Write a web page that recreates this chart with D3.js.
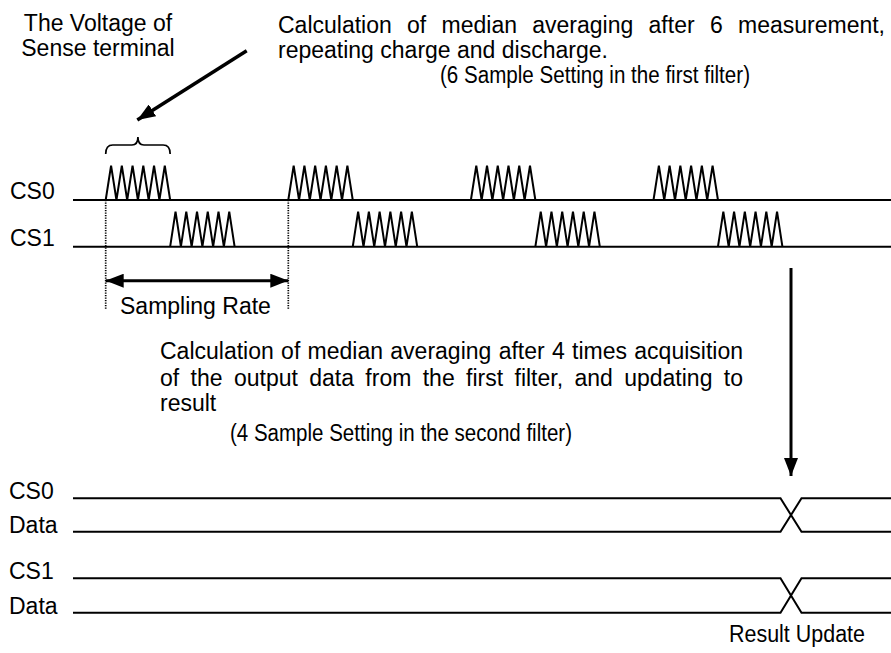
<!DOCTYPE html>
<html>
<head>
<meta charset="utf-8">
<script src="https://cdn.jsdelivr.net/npm/d3@7"></script>
<style>
  body{margin:0;background:#fff;}
  svg text{font-family:"Liberation Sans",Arial,sans-serif;font-size:23px;fill:#000;}
</style>
</head>
<body>
<svg id="chart" width="891" height="653"></svg>
<script>
// dane: kanaly, poczatki serii pomiarow (w jednostkach okresu probkowania)
let channels=["CS0","CS1"];
let burstStarts=[0,1,2,3];          // poczatki serii dla CS0
let burstOffsets=[0,0.353];         // przesuniecie CS1 wzgledem CS0
let burstWidth=0.353;               // szerokosc serii (6 probek)
let samplesPerBurst=6;
let dataRows=["CS0","CS1"];
let updateAt=3.76;                  // chwila aktualizacji wyniku

let topNote=["The Voltage of","Sense terminal"];
let firstFilterText=["Calculation of median averaging after 6 measurement,","repeating charge and discharge.","(6 Sample Setting in the first filter)"];
let secondFilterText=["Calculation of median averaging after 4 times acquisition","of the output data from the first filter, and updating to","result","(4 Sample Setting in the second filter)"];

const svg=d3.select("#chart");
const x=d3.scaleLinear().domain([0,1]).range([105.7,288.3]);
const lineStart=73, lineEnd=891;

// marker grotu strzalki
const defs=svg.append("defs");
defs.append("marker").attr("id","head").attr("viewBox","0 0 18 14")
    .attr("refX",18).attr("refY",7).attr("markerWidth",18).attr("markerHeight",14)
    .attr("markerUnits","userSpaceOnUse").attr("orient","auto-start-reverse")
    .append("path").attr("d","M0,0L18,7L0,14Z").attr("fill","#000");

// GORNE KANALY
let baseY=[200,246.7];
let topY=[165.7,211.7];
channels.forEach(function(ch,i){
    svg.append("text").attr("x",10).attr("y",baseY[i]-1).text(ch);
    svg.append("line").attr("x1",lineStart).attr("x2",lineEnd)
        .attr("y1",baseY[i]).attr("y2",baseY[i])
        .attr("stroke","#000").attr("stroke-width",2);
    var y=d3.scaleLinear().domain([0,1]).range([baseY[i],topY[i]]);
    burstStarts.forEach(function(s){
        var s0=s+burstOffsets[i];
        var pts=[[s0,0]];
        var step=burstWidth/samplesPerBurst;
        for(var k=0;k<samplesPerBurst;k++){
            pts.push([s0+(k+0.5)*step,1]);
            pts.push([s0+(k+1)*step,0]);
        }
        svg.append("path")
            .attr("d",d3.line().x(d=>x(d[0])).y(d=>y(d[1]))(pts))
            .attr("fill","none").attr("stroke","#000").attr("stroke-width",2);
    });
});

// klamra nad pierwsza seria
var bx0=x(0), bx1=x(burstWidth), bm=(bx0+bx1)/2;
svg.append("path")
    .attr("d","M"+bx0+",154 Q"+bx0+",145 "+(bx0+7)+",145 L"+(bm-6)+",145 Q"+bm+",145 "+bm+",137 Q"+bm+",145 "+(bm+6)+",145 L"+(bx1-7)+",145 Q"+bx1+",145 "+bx1+",154")
    .attr("fill","none").attr("stroke","#000").attr("stroke-width",1.7);

// linie kropkowane i okres probkowania
[0,1].forEach(function(t){
    svg.append("line").attr("x1",x(t)).attr("x2",x(t)).attr("y1",200).attr("y2",310)
        .attr("stroke","#000").attr("stroke-width",1.7).attr("stroke-dasharray","1.2,1.3");
});
svg.append("line").attr("x1",x(0)).attr("x2",x(1)).attr("y1",280.7).attr("y2",280.7)
    .attr("stroke","#000").attr("stroke-width",3)
    .attr("marker-start","url(#head)").attr("marker-end","url(#head)");
svg.append("text").attr("x",120).attr("y",314).text("Sampling Rate");

// strzalka ukosna
svg.append("line").attr("x1",246.7).attr("y1",50.7).attr("x2",137.3).attr("y2",120)
    .attr("stroke","#000").attr("stroke-width",3.5).attr("marker-end","url(#head)");

// teksty
topNote.forEach(function(t,i){
    svg.append("text").attr("x",98).attr("y",30.5+i*25).attr("text-anchor","middle").text(t);
});

function justify(str,x0,x1,yy){
    var words=str.split(" ");
    var nodes=words.map(w=>svg.append("text").attr("y",yy).text(w));
    var widths=nodes.map(n=>n.node().getComputedTextLength());
    var gap=(x1-x0-d3.sum(widths))/(words.length-1);
    var cx=x0;
    nodes.forEach(function(n,i){ n.attr("x",cx); cx+=widths[i]+gap; });
}
justify(firstFilterText[0],278,885,33);
svg.append("text").attr("x",278).attr("y",58).text(firstFilterText[1]);
svg.append("text").attr("x",440).attr("y",83).attr("textLength",310)
    .attr("lengthAdjust","spacingAndGlyphs").text(firstFilterText[2]);

justify(secondFilterText[0],160,743,359);
justify(secondFilterText[1],160,743,386);
svg.append("text").attr("x",160).attr("y",411).text(secondFilterText[2]);
svg.append("text").attr("x",230).attr("y",441).attr("textLength",342)
    .attr("lengthAdjust","spacingAndGlyphs").text(secondFilterText[3]);

// strzalka w dol
var ux=791;
svg.append("line").attr("x1",ux).attr("x2",ux).attr("y1",268).attr("y2",476)
    .attr("stroke","#000").attr("stroke-width",3).attr("marker-end","url(#head)");

// DOLNE LINIE DANYCH
let dataTop=[498.3,578.3];
let dataBot=[531.7,612.7];
dataRows.forEach(function(r,i){
    svg.append("text").attr("x",9).attr("y",dataTop[i]+1).text(r);
    svg.append("text").attr("x",9).attr("y",dataBot[i]+1).text("Data");
    var a=ux-10.5, b=ux+10.5;
    svg.append("path").attr("d","M"+lineStart+","+dataTop[i]+"L"+a+","+dataTop[i]+"L"+b+","+dataBot[i]+"L"+lineEnd+","+dataBot[i])
        .attr("fill","none").attr("stroke","#000").attr("stroke-width",2);
    svg.append("path").attr("d","M"+lineStart+","+dataBot[i]+"L"+a+","+dataBot[i]+"L"+b+","+dataTop[i]+"L"+lineEnd+","+dataTop[i])
        .attr("fill","none").attr("stroke","#000").attr("stroke-width",2);
});
svg.append("text").attr("x",729).attr("y",642).attr("textLength",136)
    .attr("lengthAdjust","spacingAndGlyphs").text("Result Update");
</script>
</body>
</html>
